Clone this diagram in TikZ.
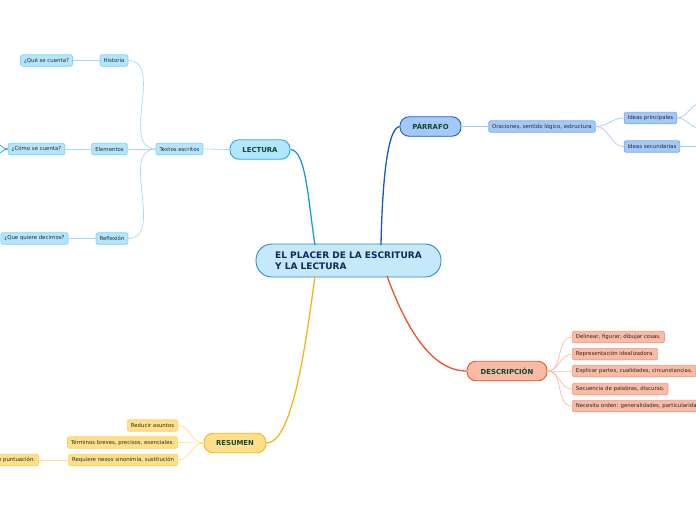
\documentclass[tikz,border=0pt]{standalone}
\usepackage{fontspec}
\setmainfont{DejaVu Sans}
\definecolor{cenFill}{HTML}{C5E9FA}
\definecolor{cenBord}{HTML}{2A8BD5}
\definecolor{cenText}{HTML}{0B2A5B}
\definecolor{headText}{HTML}{0D4A32}
\definecolor{smallText}{HTML}{2A2A2A}
\definecolor{lecFill}{HTML}{B3E5FC}
\definecolor{lecBord}{HTML}{29A8E0}
\definecolor{lecSBord}{HTML}{84D0F4}
\definecolor{lecLine}{HTML}{1A9BE0}
\definecolor{lecSLine}{HTML}{A3DBF6}
\definecolor{parFill}{HTML}{A4C8F7}
\definecolor{parBord}{HTML}{1A5FD0}
\definecolor{parSBord}{HTML}{7AAEF2}
\definecolor{parLine}{HTML}{1556C8}
\definecolor{parSLine}{HTML}{A9C9F5}
\definecolor{desFill}{HTML}{F9BAA6}
\definecolor{desBord}{HTML}{E8542A}
\definecolor{desSBord}{HTML}{F59C82}
\definecolor{desLine}{HTML}{E8542A}
\definecolor{desSLine}{HTML}{F9BBA8}
\definecolor{resFill}{HTML}{FFE08A}
\definecolor{resBord}{HTML}{F6B51E}
\definecolor{resSBord}{HTML}{FFD060}
\definecolor{resLine}{HTML}{F7B21C}
\definecolor{resSLine}{HTML}{FFE08A}
\tikzset{
  x=1pt, y=-1pt,
  small/.style={draw, line width=0.7pt, rounded corners=2pt, minimum height=11.5pt,
    inner xsep=3.5pt, inner ysep=0pt, text=smallText,
    font=\fontsize{5.4}{6.5}\selectfont},
  lecS/.style={small, fill=lecFill, draw=lecSBord},
  parS/.style={small, fill=parFill, draw=parSBord},
  desS/.style={small, fill=desFill, draw=desSBord},
  resS/.style={small, fill=resFill, draw=resSBord},
  head/.style={draw, line width=0.9pt, rounded corners=9pt, minimum height=19.5pt,
    inner sep=0pt, text=headText, font=\bfseries\fontsize{6.9}{8}\selectfont},
  lconn/.style={line width=0.7pt},
  mconn/.style={line width=1.3pt},
}
\begin{document}
\begin{tikzpicture}
\useasboundingbox (0,0) rectangle (696,520);
\clip (0,0) rectangle (696,520);
% central
\node[draw=cenBord, fill=cenFill, line width=0.9pt, rounded corners=16pt,
  minimum width=185pt, minimum height=33pt, inner sep=0pt, align=left,
  text=cenText, font=\bfseries\fontsize{9}{11}\selectfont]
  (cen) at (348.5,260.5) {EL PLACER DE LA ESCRITURA\\Y LA LECTURA};
\coordinate (cLt) at (315,245);
\coordinate (cPt) at (381,245);
\coordinate (cDb) at (387,276);
\coordinate (cRb) at (315,276);

% heads
\node[head, fill=lecFill, draw=lecBord, minimum width=60pt] (lec) at (260,149.5) {LECTURA};
\node[head, fill=parFill, draw=parBord, minimum width=61pt] (par) at (430.5,126.5) {PÁRRAFO};
\node[head, fill=desFill, draw=desBord, minimum width=80pt] (des) at (507,371) {DESCRIPCIÓN};
\node[head, fill=resFill, draw=resBord, minimum width=62pt] (res) at (235,443) {RESUMEN};

% main connectors
\draw[mconn, lecLine] (cLt) .. controls (308,200) and (306,150) .. (lec.east);
\draw[mconn, parLine] (cPt) .. controls (382,195) and (386,128) .. (par.west);
\draw[mconn, desLine] (cDb) .. controls (405,325) and (430,371) .. (des.west);
\draw[mconn, resLine] (cRb) .. controls (305,350) and (292,443) .. (res.east);

% LECTURA branch
\node[lecS] (tex) at (179.5,149) {Textos escritos};
\node[lecS] (his) at (114,60.5) {Historia};
\node[lecS] (que) at (46.5,60.5) {¿Qué se cuenta?};
\node[lecS] (ele) at (109.5,149) {Elementos};
\node[lecS] (como) at (36.5,149) {¿Cómo se cuenta?};
\node[lecS] (ref) at (112,238.5) {Reflexión};
\node[lecS] (dec) at (34.5,238.5) {¿Que quiere decirnos?};
\coordinate (comoA) at (-4,144);
\coordinate (comoB) at (-4,154);
\draw[lconn, lecSLine] (lec.west) -- (tex.east);
\draw[lconn, lecSLine] (tex.west) to[out=180,in=0] (his.east);
\draw[lconn, lecSLine] (tex.west) -- (ele.east);
\draw[lconn, lecSLine] (tex.west) to[out=180,in=0] (ref.east);
\draw[lconn, lecSLine] (his.west) -- (que.east);
\draw[lconn, lecSLine] (ele.west) -- (como.east);
\draw[lconn, lecSLine] (ref.west) -- (dec.east);
\draw[lconn, lecLine] (como.west) to[out=180,in=0] (comoA);
\draw[lconn, lecLine] (como.west) to[out=180,in=0] (comoB);

% PARRAFO branch
\node[parS] (ora) at (542,126.5) {Oraciones, sentido lógico, estructura};
\node[parS] (ipr) at (650.5,118) {Ideas principales};
\node[parS] (ise) at (652,146.5) {Ideas secundarias};
\coordinate (iprA) at (700,104);
\coordinate (iprB) at (700,128);
\coordinate (iseA) at (700,146.5);
\draw[lconn, parSLine] (par.east) -- (ora.west);
\draw[lconn, parSLine] (ora.east) to[out=0,in=180] (ipr.west);
\draw[lconn, parSLine] (ora.east) to[out=0,in=180] (ise.west);
\draw[lconn, parSLine] (ipr.east) to[out=0,in=180] (iprA);
\draw[lconn, parSLine] (ipr.east) to[out=0,in=180] (iprB);
\draw[lconn, parSLine] (ise.east) -- (iseA);

% DESCRIPCION branch
\node[desS, anchor=west] (d1) at (572,337) {Delinear, figurar, dibujar cosas.};
\node[desS, anchor=west] (d2) at (572,354) {Representación idealizadora.};
\node[desS, anchor=west] (d3) at (572,371) {Explicar partes, cualidades, circunstancias.};
\node[desS, anchor=west] (d4) at (572,389) {Secuencia de palabras, discurso.};
\node[desS, anchor=west] (d5) at (572,406) {Necesita orden: generalidades, particularidades.};
\foreach \n in {d1,d2,d3,d4,d5}
  \draw[lconn, desSLine] (des.east) to[out=0,in=180] (\n.west);

% RESUMEN branch
\node[resS, anchor=east] (r1) at (178,425.5) {Reducir asuntos};
\node[resS, anchor=east] (r2) at (178,442.5) {Términos breves, precisos, esenciales.};
\node[resS, anchor=east] (r3) at (178,460) {Requiere nexos sinonimia, sustitución};
\node[resS, anchor=east] (r4) at (39,460) {de puntuación.};
\foreach \n in {r1,r2,r3}
  \draw[lconn, resSLine] (res.west) to[out=180,in=0] (\n.east);
\draw[lconn, resSLine] (r3.west) -- (r4.east);
\end{tikzpicture}
\end{document}
